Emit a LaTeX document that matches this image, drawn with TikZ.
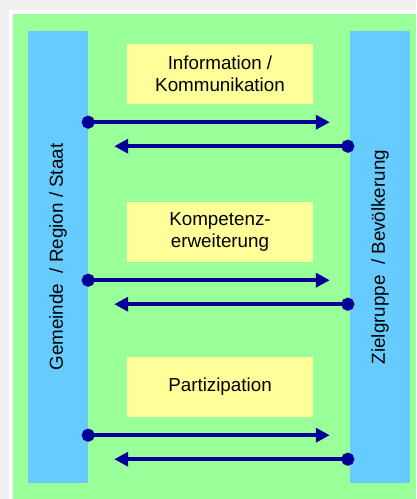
\documentclass[tikz,border=0pt]{standalone}
\usepackage{fontspec}
\setmainfont{Liberation Sans}
\usetikzlibrary{arrows.meta}

\definecolor{rand}{HTML}{F0F0F0}
\definecolor{flaeche}{HTML}{99FF99}
\definecolor{saeule}{HTML}{66CCFF}
\definecolor{feldgelb}{HTML}{FFFF99}
\definecolor{pfeilblau}{HTML}{000099}

\begin{document}
\begin{tikzpicture}[
    x=1pt, y=-1pt,
    bar/.style={rectangle, fill=saeule, minimum width=60pt, minimum height=452pt, inner sep=0pt},
    barlabel/.style={rotate=90, font=\fontsize{18.8}{22}\selectfont},
    feld/.style={rectangle, fill=feldgelb, minimum width=186pt, minimum height=60pt, inner sep=0pt, align=center, font=\fontsize{18.8}{22}\selectfont},
    pfeil/.style={draw=pfeilblau, line width=3.5pt, {Circle[length=13pt]}-{Triangle[length=14pt,width=14pt]}, shorten <=-6.5pt}
]

% Hintergrund
\fill[rand] (0,0) rectangle (416,499);
\fill[white] (9,10) rectangle (416,499);
\fill[flaeche] (13,14) rectangle (416,499);
\useasboundingbox (0,0) rectangle (416,499);

% Seitliche Saeulen
\node[bar] (gemeinde) at (58,257) {};
\node[bar] (ziel) at (380,257) {};
\node[barlabel] at (gemeinde.center) {Gemeinde\ \ / Region / Staat};
\node[barlabel] at (ziel.center) {Zielgruppe\ \ / Bev\"olkerung};

% Felder mit Pfeilen hin und zurueck
\foreach \name/\yc/\txt in {info/74/{Information /\\Kommunikation},
                            komp/232/{Kompetenz-\\erweiterung},
                            part/387/{Partizipation}} {
  \node[feld] (\name) at (220,\yc) {\txt};
  \draw[pfeil, shorten >=20pt]
    ([yshift=-18pt]\name.south -| gemeinde.east) -- ([yshift=-18pt]\name.south -| ziel.west);
  \draw[pfeil, shorten >=26pt]
    ([yshift=-42pt, xshift=-2pt]\name.south -| ziel.west) -- ([yshift=-42pt]\name.south -| gemeinde.east);
}

\end{tikzpicture}
\end{document}
